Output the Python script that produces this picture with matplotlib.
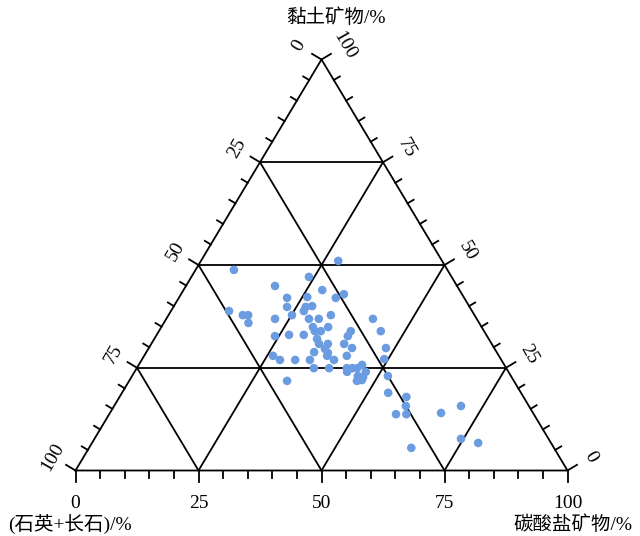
import numpy as np
import matplotlib.pyplot as plt

plt.rcParams['font.family'] = ['Liberation Serif', 'Noto Sans CJK SC']

# sample compositions (%)
clay = np.array([51.0, 48.8, 47.1, 44.9, 43.9, 42.9, 42.0, 42.0, 42.2, 39.8,
                 40.0, 39.8, 38.8, 38.8, 37.8, 37.8, 35.9, 36.9, 37.8, 36.9,
                 36.9, 37.8, 36.9, 34.9, 33.9, 33.9, 34.9, 33.9, 32.7, 33.9,
                 32.7, 33.0, 33.0, 32.0, 30.8, 30.8, 30.8, 29.8, 29.8, 28.8,
                 29.6, 28.6, 27.9, 27.9, 27.9, 26.9, 26.9, 26.9, 26.9, 27.1,
                 24.9, 24.9, 24.9, 24.9, 24.9, 25.7, 24.0, 24.0, 23.0, 22.7,
                 21.8, 22.0, 21.8, 23.0, 18.9, 17.9, 15.7, 13.7, 13.7, 14.0,
                 15.7, 7.7, 6.7, 5.5])
carbonate = np.array([27.9, 7.8, 23.9, 18.1, 28.2, 33.1, 31.9, 22.0, 26.0, 23.1,
                      28.1, 26.9, 27.0, 11.8, 15.1, 16.2, 17.2, 22.1, 25.1, 29.0,
                      31.0, 33.0, 42.0, 30.8, 31.7, 32.9, 33.9, 39.0, 39.0, 45.1,
                      24.2, 26.9, 29.9, 33.1, 34.1, 35.9, 39.2, 41.3, 48.2, 34.1,
                      35.9, 37.0, 37.2, 41.2, 26.2, 28.1, 31.2, 34.2, 39.1, 49.2,
                      36.0, 39.1, 42.7, 43.8, 44.8, 45.4, 47.0, 43.2, 45.9, 47.1,
                      46.3, 47.2, 32.1, 52.0, 54.1, 58.3, 59.3, 58.3, 60.4, 67.3,
                      70.5, 74.5, 78.5, 65.5])
quartz_feldspar = 100 - clay - carbonate

grid_vals = [25, 50, 75]
tick_vals = np.arange(0, 101, 5)
major_vals = [0, 25, 50, 75, 100]

# triangle placement in pixels (origin at bottom-left of the figure)
X0, Y0 = 75.5, 65.5
W, H = 492.0, 411.0


def to_xy(carb, cl):
    carb = np.asarray(carb, dtype=float)
    cl = np.asarray(cl, dtype=float)
    return X0 + W * (carb + cl / 2) / 100, Y0 + H * cl / 100


fig = plt.figure(figsize=(6.4, 5.36), dpi=100)
ax = fig.add_axes([0, 0, 1, 1])
ax.set_xlim(0, 640)
ax.set_ylim(0, 536)
ax.axis('off')

lw = 1.3
# outline
corners = [to_xy(0, 0), to_xy(100, 0), to_xy(0, 100), to_xy(0, 0)]
ax.plot([c[0] for c in corners], [c[1] for c in corners], color='black', lw=lw)

# grid
for v in grid_vals:
    a, b = to_xy(0, v), to_xy(100 - v, v)
    ax.plot([a[0], b[0]], [a[1], b[1]], color='black', lw=lw)
    a, b = to_xy(v, 0), to_xy(v, 100 - v)
    ax.plot([a[0], b[0]], [a[1], b[1]], color='black', lw=lw)
    a, b = to_xy(100 - v, 0), to_xy(0, 100 - v)
    ax.plot([a[0], b[0]], [a[1], b[1]], color='black', lw=lw)

# outward normals of the side edges
nL = np.array([-H, W / 2]); nL /= np.linalg.norm(nL)
nR = np.array([H, W / 2]); nR /= np.linalg.norm(nR)

for v in tick_vals:
    L = 11 if v in major_vals else 7
    # bottom axis: carbonate
    x, y = to_xy(v, 0)
    ax.plot([x, x], [y, y - L], color='black', lw=lw)
    # left axis: quartz + feldspar
    x, y = to_xy(0, 100 - v)
    ax.plot([x, x + nL[0] * L], [y, y + nL[1] * L], color='black', lw=lw)
    # right axis: clay
    x, y = to_xy(100 - v, v)
    ax.plot([x, x + nR[0] * L], [y, y + nR[1] * L], color='black', lw=lw)

fs = 14
off = 27
for v in major_vals:
    x, y = to_xy(v, 0)
    ax.text(x, y - 33, str(v), ha='center', va='center', fontsize=fs)
    x, y = to_xy(0, 100 - v)
    ax.text(x + nL[0] * off, y + nL[1] * off, str(v), ha='center', va='center',
            fontsize=fs, rotation=60)
    x, y = to_xy(100 - v, v)
    ax.text(x + nR[0] * off, y + nR[1] * off, str(v), ha='center', va='center',
            fontsize=fs, rotation=-60)

ax.text(336, 518, '黏土矿物/%', ha='center', va='center', fontsize=14)
ax.text(8, 11, '(石英+长石)/%', ha='left', va='center', fontsize=14)
ax.text(632, 11, '碳酸盐矿物/%', ha='right', va='center', fontsize=14)

# samples
px, py = to_xy(carbonate, clay)
ax.scatter(px, py, s=38, color='#6b9be0', edgecolors='none', zorder=3)

fig.savefig('out.png', dpi=100)
